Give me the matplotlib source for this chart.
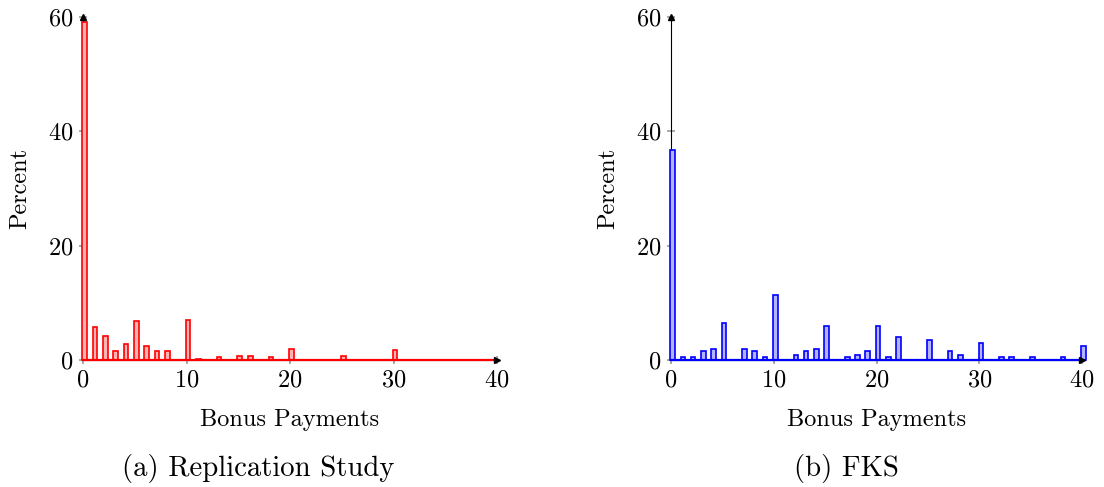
import matplotlib.pyplot as plt

plt.rcParams['font.family'] = ['cmr10', 'DejaVu Serif']
plt.rcParams['mathtext.fontset'] = 'cm'
plt.rcParams['axes.formatter.use_mathtext'] = True

# Replication study: bonus payment -> percent of subjects
rep_bonus = [0, 1, 2, 3, 4, 5, 6, 7, 8, 10, 11, 13, 15, 16, 18, 20, 25, 30]
rep_pct = [59.2, 5.7, 4.2, 1.5, 2.8, 6.8, 2.4, 1.5, 1.5, 7.0, 0.25, 0.45,
           0.7, 0.7, 0.45, 2.0, 0.7, 1.75]

# FKS data
fks_bonus = [0, 1, 2, 3, 4, 5, 7, 8, 9, 10, 12, 13, 14, 15, 17, 18, 19, 20,
             21, 22, 25, 27, 28, 30, 32, 33, 35, 38, 40]
fks_pct = [36.7, 0.45, 0.45, 1.5, 2.0, 6.4, 2.0, 1.5, 0.45, 11.4, 0.95, 1.5,
           2.0, 5.95, 0.45, 0.95, 1.5, 5.95, 0.45, 4.0, 3.5, 1.5, 0.95, 2.9,
           0.45, 0.45, 0.45, 0.45, 2.45]

panels = [
    (rep_bonus, rep_pct, 'red', '#ffb3b3', '(a) Replication Study'),
    (fks_bonus, fks_pct, 'blue', '#b3b3ff', '(b) FKS'),
]
fs = 17.5

fig = plt.figure(figsize=(11.04, 4.87), dpi=100)
boxes = [[0.0752, 0.2608, 0.375, 0.7043], [0.6078, 0.2608, 0.3723, 0.7043]]
caption_x = [0.2337, 0.7663]

for box, cx, (bx, py, edge, fill, caption) in zip(boxes, caption_x, panels):
    ax = fig.add_axes(box)
    ax.bar([b + 0.15 for b in bx], py, width=0.45, color=fill,
           edgecolor=edge, linewidth=1.2, clip_on=False, zorder=3)
    ax.set_xlim(0, 40)
    ax.set_ylim(0, 60)
    ax.set_xticks([0, 10, 20, 30, 40])
    ax.set_yticks([0, 20, 40, 60])
    ax.spines['top'].set_visible(False)
    ax.spines['right'].set_visible(False)
    ax.spines['left'].set_linewidth(0.8)
    ax.spines['bottom'].set_linewidth(0.8)
    ax.tick_params(direction='inout', length=6, width=1.2, color='#999999',
                   labelsize=fs, pad=4)
    ax.axhline(0, color=edge, linewidth=1.6, zorder=4, clip_on=False)
    # arrow heads at the axis ends
    ax.plot(1, 0, marker='>', color='black', markersize=4,
            transform=ax.transAxes, clip_on=False, zorder=5)
    ax.plot(0, 1, marker='^', color='black', markersize=4,
            transform=ax.transAxes, clip_on=False, zorder=5)
    ax.set_xlabel('Bonus Payments', fontsize=fs, labelpad=12)
    ax.set_ylabel('Percent', fontsize=fs, labelpad=12)
    fig.text(cx, 0.0226, caption, ha='center', va='baseline', fontsize=20.7)

fig.savefig('out.png', dpi=100)
